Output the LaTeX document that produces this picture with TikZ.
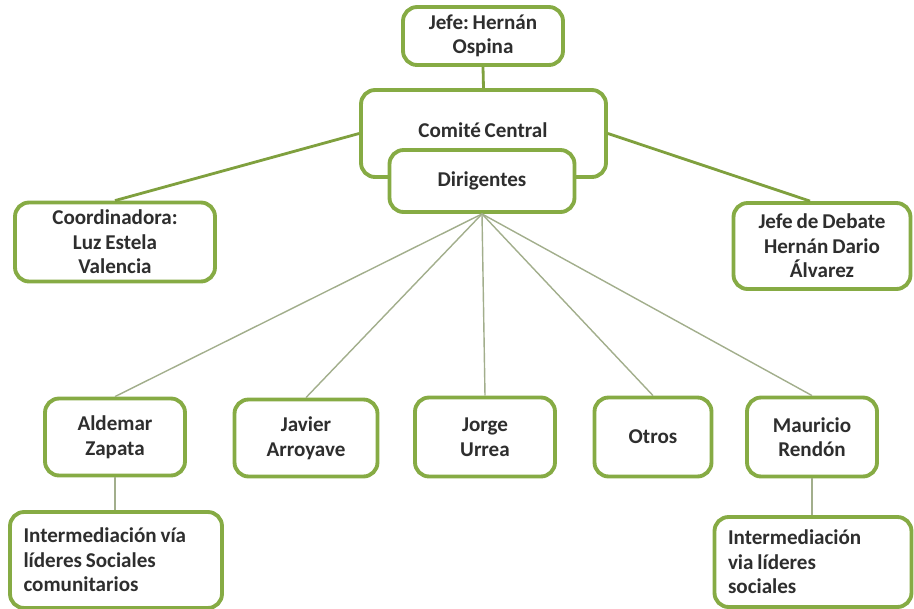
\documentclass[tikz,border=0pt]{standalone}
\usepackage{fontspec}
\setmainfont{Carlito}[WordSpace=0.8]
\frenchspacing
\usetikzlibrary{positioning}
\definecolor{boxgreen}{HTML}{86AB44}
\definecolor{linkgreen}{HTML}{7FA03E}
\definecolor{linkgrey}{HTML}{A2AE8C}
\definecolor{boxtext}{HTML}{2E2E2E}
\tikzset{
  orgbox/.style={draw=boxgreen, line width=2.2pt, rounded corners=8pt, fill=white,
                 font=\bfseries\fontsize{12}{14}\selectfont, text=boxtext,
                 align=center, inner sep=2pt},
  notebox/.style={orgbox, align=flush left},
  toplink/.style={linkgreen, line width=1.6pt},
  sublink/.style={linkgrey, line width=0.8pt},
}

\begin{document}
\begin{tikzpicture}[x=0.02cm, y=-0.02cm]
    \useasboundingbox (0,0) rectangle (914,609);
    % top of the chart
    \node[orgbox, minimum width=3.2cm, minimum height=1.16cm] (jefe) at (483,36) {Jefe: Hernán\\Ospina};
    \node[orgbox, minimum width=4.9cm, minimum height=1.74cm] (comite) at (483.5,133.5) {};
    \node[font=\bfseries\fontsize{12}{14}\selectfont, text=boxtext] (comitetxt) at (483,130) {Comité Central};
    \node[orgbox, minimum width=3.7cm, minimum height=1.24cm] (dirig) at (482,181) {Dirigentes};
    \node[orgbox, minimum width=4.0cm, minimum height=1.58cm] (coord) at (115,242) {Coordinadora:\\Luz Estela\\Valencia};
    \node[orgbox, minimum width=3.54cm, minimum height=1.72cm] (debate) at (822,246) {Jefe de Debate\\Hernán Dario\\Álvarez};
    % second level
    \node[orgbox, minimum width=2.8cm, minimum height=1.54cm] (aldemar) at (115,437) {Aldemar\\Zapata};
    \node[orgbox, minimum width=2.86cm, minimum height=1.54cm] (javier) at (306,438) {Javier\\Arroyave};
    \node[orgbox, minimum width=2.8cm, minimum height=1.58cm] (jorge) at (485,437) {Jorge\\Urrea};
    \node[orgbox, minimum width=2.34cm, minimum height=1.58cm] (otros) at (653,437) {Otros};
    \node[orgbox, minimum width=2.6cm, minimum height=1.58cm] (mauricio) at (812,437) {Mauricio\\Rendón};
    \node[notebox, minimum width=4.24cm, minimum height=1.92cm, text width=3.7cm] (interizq) at (116,560) {Intermediación vía\\líderes Sociales\\comunitarios};
    \node[notebox, minimum width=3.94cm, minimum height=1.8cm, text width=3.4cm] (interder) at (813,562) {Intermediación\\via líderes\\sociales};

    \draw[toplink] (jefe.south) -- (comite.north);
    \draw[toplink] (comite.west) -- (coord.north);
    \draw[toplink] (comite.east) -- ([xshift=-0.24cm]debate.north);
    \foreach \n in {aldemar,javier,jorge,otros,mauricio}
      \draw[sublink] (dirig.south) -- (\n.north);
    \draw[sublink] (aldemar.south) -- (aldemar.south |- interizq.north);
    \draw[sublink] (mauricio.south) -- (mauricio.south |- interder.north);
  \end{tikzpicture}
\end{document}
